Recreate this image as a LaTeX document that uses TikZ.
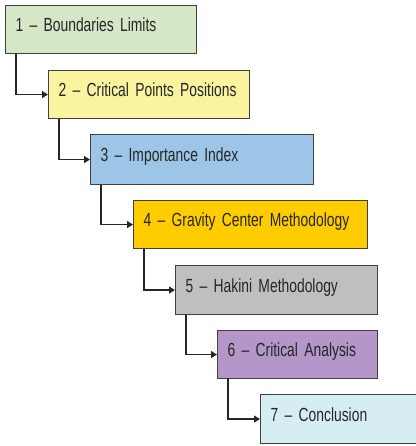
\documentclass[tikz,border=0pt]{standalone}
\usepackage{fontspec}
\setmainfont{Liberation Sans}[FakeStretch=0.73]
\usepackage{xcolor}
\usepackage{tikz}
\usetikzlibrary{positioning,calc,arrows.meta}

\definecolor{stepgreen}{RGB}{214,231,200}
\definecolor{stepyellow}{RGB}{250,243,160}
\definecolor{stepblue}{RGB}{157,197,232}
\definecolor{stepgold}{RGB}{255,204,0}
\definecolor{stepgray}{RGB}{191,191,191}
\definecolor{steppurple}{RGB}{180,151,200}
\definecolor{stepcyan}{RGB}{213,237,243}

% narrow text, narrow word spaces
\newcommand{\stepfont}{\fontsize{19}{22}\selectfont
    \spaceskip=3.2pt plus 1pt minus 1pt\relax}

\begin{document}
\begin{tikzpicture}[x=1pt,y=-1pt,
    stepbox/.style={draw=black!75, line width=1.1pt, anchor=north west,
        minimum height=48pt, inner xsep=10pt, align=left,
        text height=0.72em, text depth=0.3em, text=black!85,
        font=\stepfont},
    link/.style={line width=1.3pt, draw=black!85, -{Triangle[length=6pt,width=7pt]}}]
    \useasboundingbox[fill=white] (0,0) rectangle (415,446);
    \node[stepbox, fill=stepgreen,  text width=171pt] (s1) at (5,5)    {1 -- Boundaries Limits};
    \node[stepbox, fill=stepyellow, text width=181pt] (s2) at (48,70)  {2 -- Critical Points Positions};
    \node[stepbox, fill=stepblue,   text width=203pt, minimum height=50pt] (s3) at (90,134) {3 -- Importance Index};
    \node[stepbox, fill=stepgold,   text width=214pt] (s4) at (133,200) {4 -- Gravity Center Methodology};
    \node[stepbox, fill=stepgray,   text width=182pt, minimum height=49pt] (s5) at (175,265) {5 -- Hakini Methodology};
    \node[stepbox, fill=steppurple, text width=140pt] (s6) at (217,330) {6 -- Critical Analysis};
    \node[stepbox, fill=stepcyan,   text width=155pt, minimum height=49pt] (s7) at (260,394) {7 -- Conclusion}; % runs past the right edge
    % connectors
    \draw[link] ([xshift=11pt]s1.south west) |- (s2.west);
    \draw[link] ([xshift=11pt]s2.south west) |- (s3.west);
    \draw[link] ([xshift=11pt]s3.south west) |- (s4.west);
    \draw[link] ([xshift=11pt]s4.south west) |- (s5.west);
    \draw[link] ([xshift=11pt]s5.south west) |- (s6.west);
    \draw[link] ([xshift=11pt]s6.south west) |- (s7.west);
\end{tikzpicture}
\end{document}
